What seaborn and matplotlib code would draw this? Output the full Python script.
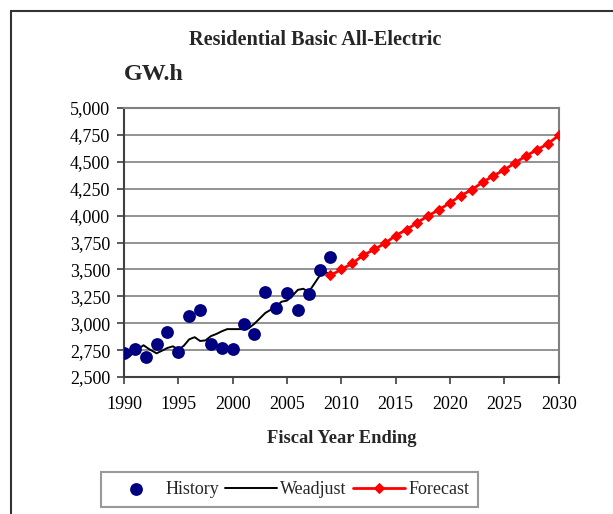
import matplotlib
matplotlib.use("Agg")
import matplotlib.pyplot as plt
import seaborn as sns
import pandas as pd
from matplotlib.patches import Rectangle
from matplotlib.ticker import FuncFormatter

hist_years = list(range(1990, 2010))
hist_vals = [2722, 2759, 2685, 2806, 2917, 2731, 3065, 3120, 2806, 2769,
             2759, 2991, 2898, 3287, 3139, 3278, 3120, 3269, 3491, 3611]

wead_years = [1990.0, 1990.5, 1991.0, 1991.5, 1991.8, 1992.3, 1993.0, 1993.5, 1994.0, 1994.5,
              1995.0, 1995.5, 1996.0, 1996.5, 1997.0, 1997.5, 1998.0, 1998.5, 1999.0, 1999.5,
              2000.0, 2000.5, 2001.0, 2001.5, 2002.0, 2002.5, 2003.0, 2003.5, 2004.0, 2004.5,
              2005.0, 2005.5, 2006.0, 2006.5, 2007.0, 2007.5, 2008.0, 2008.5, 2008.8]
wead_vals = [2680, 2690, 2740, 2775, 2795, 2760, 2720, 2745, 2770, 2785,
             2755, 2790, 2850, 2870, 2835, 2840, 2880, 2900, 2925, 2945,
             2945, 2945, 2945, 2955, 2995, 3045, 3095, 3125, 3155, 3200,
             3210, 3255, 3310, 3320, 3290, 3365, 3440, 3480, 3460]

fc_years = list(range(2009, 2031))
fc_vals = [3444, 3500, 3556, 3630, 3685, 3741, 3815, 3870, 3935, 4000, 4055,
           4120, 4185, 4241, 4310, 4370, 4426, 4491, 4556, 4611, 4667, 4745]

x_ticks = [1990, 1995, 2000, 2005, 2010, 2015, 2020, 2025, 2030]
y_ticks = [2500, 2750, 3000, 3250, 3500, 3750, 4000, 4250, 4500, 4750, 5000]

title = "Residential Basic All-Electric"
unit = "GW.h"
xlabel = "Fiscal Year Ending"

sns.set_theme(style="white")
plt.rcParams['font.family'] = ['Liberation Serif', 'DejaVu Serif']

fig = plt.figure(figsize=(6.13, 5.14), dpi=100)
ax = fig.add_axes([124/613, 1-377/514, (558.7-124)/613, (377-108)/514])

df_h = pd.DataFrame({"year": hist_years, "val": hist_vals})
df_w = pd.DataFrame({"year": wead_years, "val": wead_vals})
df_f = pd.DataFrame({"year": fc_years, "val": fc_vals})

sns.lineplot(data=df_w, x="year", y="val", ax=ax, color="black", linewidth=1.4,
             label="Weadjust", zorder=3)
sns.lineplot(data=df_f, x="year", y="val", ax=ax, color="#ff0000", linewidth=2,
             marker="D", markersize=5.5, markeredgecolor="#ff0000",
             label="Forecast", zorder=4)
sns.scatterplot(data=df_h, x="year", y="val", ax=ax, color="#000080", s=85,
                edgecolor="#000080", linewidth=0, label="History", zorder=5)

ax.set_xlim(1990, 2030)
ax.set_ylim(2500, 5000)
ax.set_xticks(x_ticks)
ax.set_yticks(y_ticks)
ax.yaxis.set_major_formatter(FuncFormatter(lambda v, p: f"{int(v):,}"))
ax.grid(axis="y", color="#808080", linewidth=1.2)
ax.set_axisbelow(True)
for s in ["top", "right"]:
    ax.spines[s].set_color("#808080")
    ax.spines[s].set_linewidth(1.5)
for s in ["left", "bottom"]:
    ax.spines[s].set_color("#404040")
    ax.spines[s].set_linewidth(1.5)
ax.tick_params(axis="both", direction="out", length=5, width=1.2, color="#404040",
               labelsize=13, labelcolor="black", pad=5, left=True, bottom=True)
ax.tick_params(axis="x", pad=9)
ax.set_xlabel(xlabel, fontsize=13.3, fontweight="bold", labelpad=12)
ax.set_ylabel("")

fig.text(315/613, 1-40/514, title, ha="center", va="center", fontsize=14.6,
         fontweight="bold")
fig.text(124/613, 1-75/514, unit, ha="left", va="center", fontsize=17.3,
         fontweight="bold")

h, l = ax.get_legend_handles_labels()
order = [l.index("History"), l.index("Weadjust"), l.index("Forecast")]
leg = fig.legend([h[i] for i in order], [l[i] for i in order], ncol=3,
                 loc="center", bbox_to_anchor=(289.5/613, 1-489.5/514),
                 fontsize=13, frameon=True, fancybox=False, edgecolor="#808080",
                 handlelength=2.9, handletextpad=0.15, columnspacing=0.35,
                 borderpad=0.5)
leg.get_frame().set_linewidth(1.5)
if ax.get_legend():
    ax.get_legend().remove()

fig.patches.append(Rectangle((11/613, -0.05), 1.1, 1-11/514+0.05,
                             transform=fig.transFigure, fill=False,
                             edgecolor="#333333", linewidth=1.5))

fig.savefig("out.png", dpi=100)
